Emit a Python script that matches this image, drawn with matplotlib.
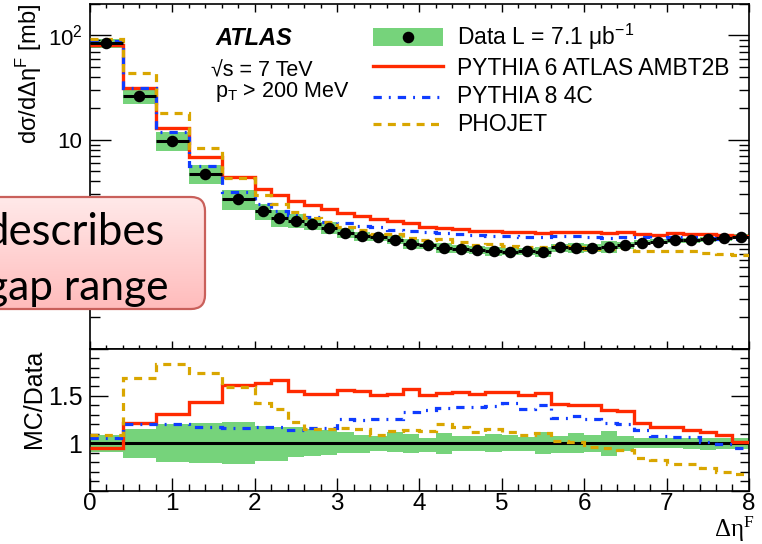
import numpy as np
import matplotlib
matplotlib.use('Agg')
import matplotlib.pyplot as plt
from matplotlib.patches import Rectangle, FancyBboxPatch
from matplotlib.colors import LinearSegmentedColormap
from matplotlib.ticker import FixedLocator, FixedFormatter, MultipleLocator, LogLocator, NullFormatter

plt.rcParams['font.family'] = ['Liberation Sans', 'DejaVu Sans']
plt.rcParams['mathtext.fontset'] = 'custom'
plt.rcParams['mathtext.rm'] = 'Liberation Sans'
plt.rcParams['mathtext.it'] = 'Liberation Sans:italic'
plt.rcParams['mathtext.default'] = 'regular'

# bin edges in delta eta^F
edges = [0.0, 0.4, 0.8, 1.2, 1.6, 2.0, 2.2, 2.4, 2.6, 2.8, 3.0, 3.2, 3.4, 3.6, 3.8,
         4.0, 4.2, 4.4, 4.6, 4.8, 5.0, 5.2, 5.4, 5.6, 5.8, 6.0, 6.2, 6.4, 6.6, 6.8,
         7.0, 7.2, 7.4, 7.6, 7.8, 8.0]

# measured cross section [mb]
data = [84.6, 26.0, 9.8, 4.75, 2.72, 2.08, 1.79, 1.68, 1.56, 1.42, 1.27, 1.20,
        1.16, 1.10, 1.01, 0.978, 0.927, 0.901, 0.881, 0.862, 0.849, 0.862, 0.844,
        0.936, 0.927, 0.927, 0.948, 0.978, 1.036, 1.059, 1.092, 1.092, 1.117,
        1.141, 1.184]

# relative uncertainty band (upper / lower edge of ratio)
band_hi = [1.089, 1.154, 1.204, 1.214, 1.221, 1.179, 1.175, 1.168, 1.154, 1.143,
           1.114, 1.089, 1.079, 1.114, 1.10, 1.054, 1.111, 1.079, 1.079, 1.10,
           1.082, 1.064, 1.118, 1.079, 1.107, 1.089, 1.132, 1.079, 1.054, 1.054,
           1.054, 1.054, 1.054, 1.054, 1.054]
band_lo = [0.904, 0.846, 0.804, 0.793, 0.782, 0.811, 0.811, 0.857, 0.868, 0.875,
           0.90, 0.90, 0.918, 0.911, 0.90, 0.911, 0.889, 0.918, 0.918, 0.904,
           0.921, 0.921, 0.889, 0.90, 0.896, 0.911, 0.864, 0.918, 0.946, 0.946,
           0.946, 0.939, 0.932, 0.935, 0.939]

# MC / Data ratios
r_py6 = [0.946, 1.218, 1.311, 1.439, 1.614, 1.639, 1.664, 1.554, 1.521, 1.521,
         1.561, 1.55, 1.514, 1.518, 1.571, 1.507, 1.536, 1.546, 1.518, 1.539,
         1.539, 1.511, 1.530, 1.411, 1.40, 1.404, 1.354, 1.343, 1.214, 1.168,
         1.168, 1.143, 1.114, 1.082, 1.018]
r_py8 = [1.054, 1.207, 1.207, 1.171, 1.161, 1.175, 1.168, 1.143, 1.16, 1.16,
         1.257, 1.25, 1.26, 1.257, 1.33, 1.35, 1.375, 1.38, 1.38, 1.39,
         1.42, 1.364, 1.404, 1.268, 1.293, 1.257, 1.211, 1.207, 1.139, 1.075,
         1.068, 1.068, 1.018, 0.99, 0.954]
r_pho = [1.082, 1.689, 1.836, 1.746, 1.589, 1.429, 1.364, 1.221, 1.154, 1.154,
         1.16, 1.146, 1.089, 1.132, 1.136, 1.129, 1.207, 1.168, 1.114, 1.154,
         1.12, 1.086, 1.11, 1.025, 1.014, 0.964, 0.954, 0.932, 0.839, 0.821,
         0.786, 0.786, 0.743, 0.70, 0.671]

edges = np.array(edges)
data = np.array(data)
band_hi = np.array(band_hi)
band_lo = np.array(band_lo)
r_py6 = np.array(r_py6)
r_py8 = np.array(r_py8)
r_pho = np.array(r_pho)
centers = 0.5 * (edges[1:] + edges[:-1])
widths = np.diff(edges)

green = '#76d37b'
red = '#ff2a00'
blue = '#0f3cff'
orange = '#d9a600'
ls_py8 = (0, (2.6, 2.2, 0.6, 2.2))
ls_pho = (0, (2.5, 2.0))

fig = plt.figure(figsize=(7.62, 5.44), dpi=100)
ax = fig.add_axes([0.1181, 0.3592, 0.8648, 0.6335])
ax2 = fig.add_axes([0.1181, 0.0982, 0.8648, 0.2610])

# ---- top panel
ax.bar(centers, data * (band_hi - band_lo), bottom=data * band_lo, width=widths,
       color=green, lw=0, zorder=1)
ax.stairs(data * r_py6, edges, baseline=None, color=red, lw=2.4, zorder=3)
ax.stairs(data * r_py8, edges, baseline=None, color=blue, lw=2.3, ls=ls_py8, zorder=3)
ax.stairs(data * r_pho, edges, baseline=None, color=orange, lw=2.3, ls=ls_pho, zorder=3)
ax.errorbar(centers, data, xerr=widths / 2, fmt='o', color='k', ms=7.3,
            elinewidth=2.2, capsize=0, zorder=4)

ax.set_yscale('log')
ax.set_xlim(0, 8)
ax.set_ylim(0.1, 200)
# the "1" label sits under the callout box in the original, so left blank
ax.yaxis.set_major_locator(FixedLocator([1, 10, 100]))
ax.yaxis.set_major_formatter(FixedFormatter(['', '10', '$10^{2}$']))
ax.yaxis.set_minor_locator(LogLocator(base=10, subs=np.arange(2, 10)))
ax.yaxis.set_minor_formatter(NullFormatter())
ax.xaxis.set_major_locator(MultipleLocator(1))
ax.xaxis.set_minor_locator(MultipleLocator(0.2))
ax.tick_params(axis='y', which='major', direction='in', length=15, width=1,
               labelsize=16, pad=5.5, right=True)
ax.tick_params(axis='y', which='minor', direction='in', length=7, width=1, right=True)
ax.tick_params(axis='x', which='major', direction='in', length=6, width=1,
               top=True, labelbottom=False)
ax.tick_params(axis='x', which='minor', direction='in', length=3, width=1, top=True)
for s in ax.spines.values():
    s.set_linewidth(1.2)

# legend, drawn by hand in axes fraction
tr = ax.transAxes
ax.add_patch(Rectangle((0.430, 0.878), 0.105, 0.052, transform=tr, color=green,
                       lw=0, zorder=5))
ax.plot([0.4825], [0.904], 'o', color='k', ms=7.3, transform=tr, zorder=6)
ax.plot([0.430, 0.535], [0.820, 0.820], color=red, lw=2.4, transform=tr, zorder=6)
ax.plot([0.430, 0.535], [0.730, 0.730], color=blue, lw=2.3, ls=ls_py8, transform=tr, zorder=6)
ax.plot([0.430, 0.535], [0.652, 0.652], color=orange, lw=2.3, ls=ls_pho, transform=tr, zorder=6)
leg_fs = 16.5
ax.text(0.557, 0.881, 'Data L = 7.1 μb$^{-1}$', transform=tr, fontsize=leg_fs, va='baseline')
ax.text(0.557, 0.794, 'PYTHIA 6 ATLAS AMBT2B', transform=tr, fontsize=leg_fs, va='baseline')
ax.text(0.557, 0.713, 'PYTHIA 8 4C', transform=tr, fontsize=leg_fs, va='baseline')
ax.text(0.557, 0.630, 'PHOJET', transform=tr, fontsize=leg_fs, va='baseline')

ax.text(0.190, 0.881, 'ATLAS', transform=tr, fontsize=17, fontweight='bold',
        fontstyle='italic', va='baseline')
ax.text(0.183, 0.791, '√s = 7 TeV', transform=tr, fontsize=15.5, va='baseline')
ax.text(0.190, 0.730, 'p$_{T}$ > 200 MeV', transform=tr, fontsize=15.5, va='baseline')

# ---- ratio panel
ax2.bar(centers, band_hi - band_lo, bottom=band_lo, width=widths, color=green,
        lw=0, zorder=1)
ax2.axhline(1, color='k', lw=2.2, zorder=2)
ax2.stairs(r_py6, edges, baseline=None, color=red, lw=2.4, zorder=3)
ax2.stairs(r_py8, edges, baseline=None, color=blue, lw=2.3, ls=ls_py8, zorder=3)
ax2.stairs(r_pho, edges, baseline=None, color=orange, lw=2.3, ls=ls_pho, zorder=3)
ax2.set_xlim(0, 8)
ax2.set_ylim(0.5, 2.0)
ax2.yaxis.set_major_locator(FixedLocator([0.5, 1.0, 1.5, 2.0]))
ax2.yaxis.set_major_formatter(FixedFormatter(['', '1', '1.5', '']))
ax2.yaxis.set_minor_locator(MultipleLocator(0.1))
ax2.xaxis.set_major_locator(MultipleLocator(1))
ax2.xaxis.set_minor_locator(MultipleLocator(0.2))
ax2.tick_params(axis='y', which='major', direction='in', length=13, width=1,
                labelsize=18, pad=5.5, right=True)
ax2.tick_params(axis='y', which='minor', direction='in', length=6.5, width=1, right=True)
ax2.tick_params(axis='x', which='major', direction='in', length=9.4, width=1,
                labelsize=17.5, pad=1.5)
ax2.tick_params(axis='x', which='minor', direction='in', length=4.7, width=1)
for s in ax2.spines.values():
    s.set_linewidth(1.2)

# axis titles
fig.text(29 / 762, 1 - 4 / 544, 'dσ/dΔη$^{F}$ [mb]', rotation=90, ha='center',
         va='top', fontsize=17)
fig.text(34 / 762, 1 - 350 / 544, 'MC/Data', rotation=90, ha='center', va='top',
         fontsize=18)
fig.text(754 / 762, 0, 'Δη$^{F}$', ha='right', va='bottom', fontsize=18,
         family=['Liberation Serif', 'DejaVu Serif'])

# ---- callout box overlay (pixel coordinates of the figure)
ov = fig.add_axes([0, 0, 1, 1], zorder=20)
ov.axis('off')
box = FancyBboxPatch((-30, 197), 235, 112, boxstyle='round,pad=0,rounding_size=14',
                     fc='none', ec='#c9605b', lw=1.6, zorder=3)
ov.add_patch(box)
grad = np.linspace(0, 1, 64).reshape(-1, 1)
cmap = LinearSegmentedColormap.from_list('pink', ['#ffe9e9', '#ffbcbc'])
im = ov.imshow(grad, extent=[-30, 205, 309, 197], cmap=cmap, aspect='auto', zorder=2)
im.set_clip_path(box)
ov.text(165, 245, 'describes', ha='right', va='baseline', fontsize=31.5,
        family=['Lato', 'DejaVu Sans'], zorder=4)
ov.text(169, 300, 'gap range', ha='right', va='baseline', fontsize=30.5,
        family=['Lato', 'DejaVu Sans'], zorder=4)
ov.set_xlim(0, 762)
ov.set_ylim(544, 0)

fig.savefig('out.png', dpi=100)
